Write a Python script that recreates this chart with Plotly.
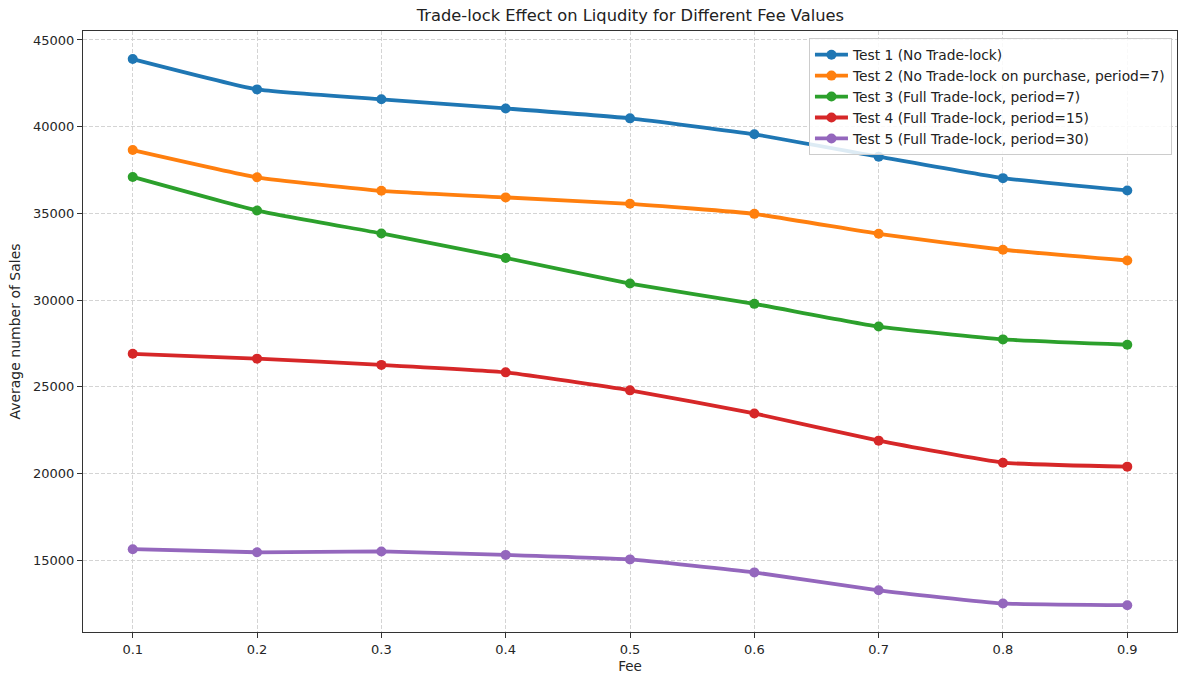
import plotly.graph_objects as go

fee = [0.1, 0.2, 0.3, 0.4, 0.5, 0.6, 0.7, 0.8, 0.9]
test1 = [43900, 42150, 41580, 41050, 40480, 39560, 38270, 37030, 36320]
test2 = [38650, 37080, 36300, 35920, 35550, 34970, 33820, 32900, 32280]
test3 = [37100, 35160, 33840, 32430, 30950, 29780, 28470, 27730, 27420]
test4 = [26900, 26620, 26260, 25830, 24790, 23460, 21890, 20620, 20390]
test5 = [15630, 15450, 15500, 15300, 15040, 14290, 13260, 12500, 12400]

names = [
    "Test 1 (No Trade-lock)",
    "Test 2 (No Trade-lock on purchase, period=7)",
    "Test 3 (Full Trade-lock, period=7)",
    "Test 4 (Full Trade-lock, period=15)",
    "Test 5 (Full Trade-lock, period=30)",
]
colors = ["#1f77b4", "#ff7f0e", "#2ca02c", "#d62728", "#9467bd"]
series = [test1, test2, test3, test4, test5]

fig = go.Figure()
for n, c, s in zip(names, colors, series):
    fig.add_trace(go.Scatter(
        x=fee, y=s, name=n, mode="lines+markers",
        line=dict(color=c, width=3.8, shape="spline", smoothing=0.4),
        marker=dict(color=c, size=10),
    ))

axis_common = dict(
    showline=True, linecolor="#333333", linewidth=1.2, mirror=True,
    showgrid=True, gridcolor="#d4d4d4", griddash="4px,2px", gridwidth=1,
    ticks="outside", ticklen=5, tickcolor="#333333",
    tickfont=dict(family="DejaVu Sans", size=13, color="#262626"),
    zeroline=False,
)

fig.update_layout(
    width=1179, height=675,
    margin=dict(l=83, r=2, t=31, b=43),
    paper_bgcolor="white", plot_bgcolor="white",
    title=dict(text="Trade-lock Effect on Liqudity for Different Fee Values",
               x=0.5347, xanchor="center", y=0.978, yanchor="middle",
               font=dict(family="DejaVu Sans", size=16.3, color="#222222")),
    xaxis=dict(**axis_common, range=[0.06, 0.94],
               tickvals=fee, ticktext=[str(f) for f in fee],
               title=dict(text="Fee", standoff=5,
                          font=dict(family="DejaVu Sans", size=13.5, color="#262626"))),
    yaxis=dict(**axis_common, range=[10853, 45518],
               tickvals=[15000, 20000, 25000, 30000, 35000, 40000, 45000],
               ticktext=["15000", "20000", "25000", "30000", "35000", "40000", "45000"],
               title=dict(text="Average number of Sales", standoff=9,
                          font=dict(family="DejaVu Sans", size=14, color="#262626"))),
    legend=dict(x=0.9954, y=0.988, xanchor="right", yanchor="top",
                bgcolor="rgba(255,255,255,0.85)", bordercolor="#cccccc", borderwidth=1,
                font=dict(family="DejaVu Sans", size=13.8, color="#222222"),
                tracegroupgap=0, itemwidth=33),
    showlegend=True,
)

fig.write_html("out.html")
